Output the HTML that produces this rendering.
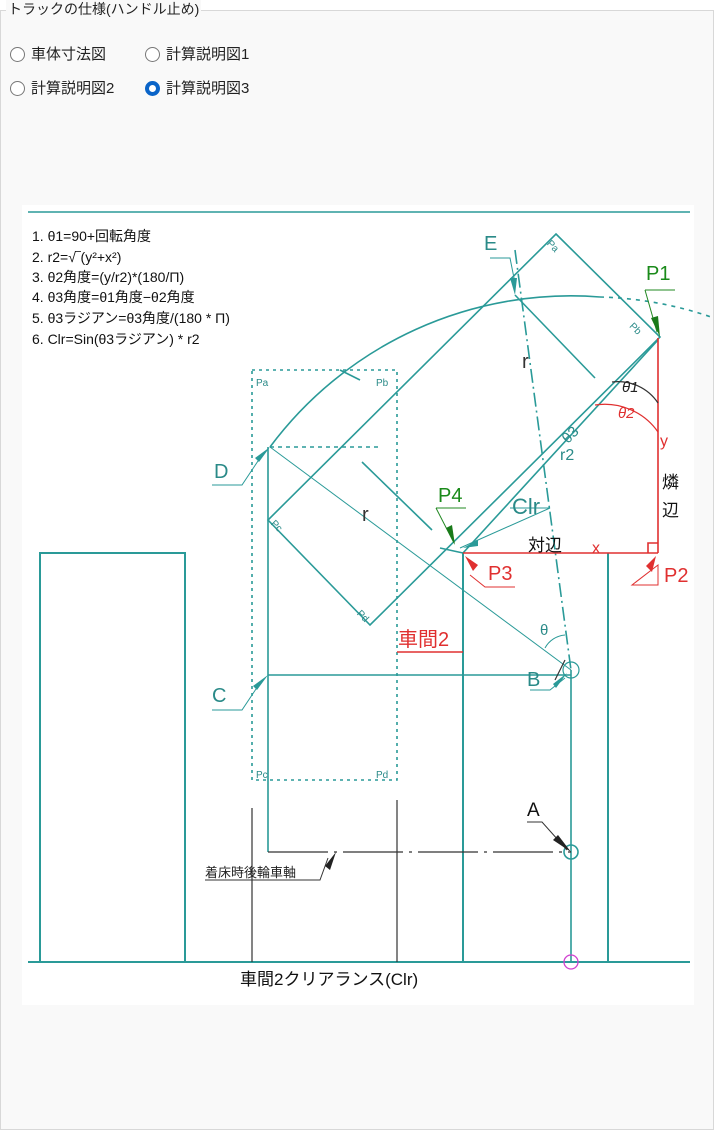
<!DOCTYPE html>
<html><head><meta charset="utf-8"><style>
body{margin:0;width:714px;height:1130px;background:#fff;font-family:"Liberation Sans","Noto Sans CJK JP",sans-serif;overflow:hidden}
.panel{position:absolute;left:0;top:10px;width:712px;height:1118px;border:1px solid #d8d8d8;background:#f9f9f9}
.legend{position:absolute;left:6px;top:0;font-size:14px;color:#222;background:#f9f9f9;padding:0 2px;line-height:18px}
.r{position:absolute;font-size:15px;color:#222;line-height:20px}
.c{display:inline-block;width:15px;height:15px;border:1px solid #777;border-radius:50%;vertical-align:-3px;margin-right:6px;box-sizing:border-box;background:#fff}
.c.on{border:4px solid #0a64c8}
</style></head><body>
<div class="panel"></div>
<div class="legend">トラックの仕様(ハンドル止め)</div>
<div class="r" style="left:10px;top:45px"><span class="c"></span>車体寸法図</div>
<div class="r" style="left:145px;top:45px"><span class="c"></span>計算説明図1</div>
<div class="r" style="left:10px;top:79px"><span class="c"></span>計算説明図2</div>
<div class="r" style="left:145px;top:79px"><span class="c on"></span>計算説明図3</div>
<svg style="position:absolute;left:0;top:0" width="714" height="1130" font-family="Liberation Sans,Noto Sans CJK JP,sans-serif">
<rect x="22" y="205" width="672" height="800" fill="#fff"/>
<g stroke="#2a9a98" fill="none" stroke-width="1.6">
<line x1="28" y1="212" x2="690" y2="212"/>
<line x1="28" y1="962" x2="690" y2="962" stroke-width="2"/>
<rect x="40" y="553" width="145" height="409" stroke-width="2"/>
<line x1="463" y1="553" x2="463" y2="962" stroke-width="2"/>
<line x1="608" y1="553" x2="608" y2="962" stroke-width="2"/>
<polygon points="556,234 660,337 370,625 268,520"/>
<line x1="515" y1="295" x2="595" y2="378"/>
<line x1="362" y1="462" x2="432" y2="530"/>
<line x1="658" y1="340" x2="463" y2="553"/>
<path d="M270,447 A375,375 0 0 1 600,297" />
<path d="M600,297 A375,375 0 0 1 714,318" stroke-dasharray="4,5"/>
<line x1="270" y1="447" x2="571" y2="670" stroke-width="1"/>
<line x1="515" y1="250" x2="571" y2="670" stroke-dasharray="14,4,2,4"/>
<line x1="571" y1="670" x2="571" y2="962"/>
<circle cx="571" cy="670" r="8" stroke-width="1.2"/>
<circle cx="571" cy="852" r="7"/>
<rect x="252" y="370" width="145" height="410" stroke-dasharray="3,4"/>
<line x1="270" y1="447" x2="380" y2="447" stroke-dasharray="4,4"/>
<line x1="268" y1="447" x2="268" y2="852"/>
<line x1="268" y1="675" x2="571" y2="675"/>
<path d="M340,370 l20,10"/>
<line x1="463" y1="553" x2="440" y2="548"/>
<path d="M210,360 l0,0"/>
<path d="M490,258 l20,0 l5,25" stroke-width="1"/>
<path d="M212,485 l30,0 l20,-30" stroke-width="1"/>
<path d="M212,710 l30,0 l20,-30" stroke-width="1"/>
<path d="M510,508 l40,0 l-90,40" stroke-width="1"/>
<path d="M530,690 l20,0 l15,-12" stroke-width="1"/>
</g>
<g stroke="#333" stroke-width="1.2" fill="none">
<line x1="252" y1="808" x2="252" y2="962"/>
<line x1="397" y1="800" x2="397" y2="962"/>
<line x1="268" y1="852" x2="571" y2="852" stroke-dasharray="60,6,3,6"/>
<path d="M205,880 l115,0 l8,-22" stroke-width="1"/>
<path d="M527,822 l15,0 l25,28" stroke-width="1"/>
<path d="M565,660 l-10,20"/>
</g>
<g stroke="#e03030" fill="none" stroke-width="1.6">
<line x1="463" y1="553" x2="658" y2="553"/>
<line x1="658" y1="338" x2="658" y2="553"/>
<path d="M648,553 v-10 h10"/>
<path d="M595,405 A65,65 0 0 1 658,432" stroke-width="1.2"/>
<line x1="397" y1="652" x2="463" y2="652"/>
<path d="M470,575 l15,12 l30,0" stroke-width="1"/>
<path d="M632,585 l26,-20 l0,20 z" stroke-width="1"/>
</g>
<path d="M612,382 A48,48 0 0 1 658,403" stroke="#333" fill="none" stroke-width="1.2"/>
<path d="M545,648 A25,25 0 0 1 565,635" stroke="#2a9a98" fill="none" stroke-width="1"/>
<g stroke="#228822" fill="none" stroke-width="1"><path d="M645,290 l30,0 M645,290 l12,42"/><path d="M436,508 l30,0 M436,508 l18,35"/></g>
<g fill="#1a7a1a"><polygon points="660,337 651,318 658,316"/><polygon points="455,545 446,528 452,525"/></g>
<g fill="#2a9a98"><polygon points="515,295 510,278 517,278"/><polygon points="270,447 255,458 259,462"/><polygon points="268,675 253,686 257,690"/><polygon points="463,548 478,540 478,546"/><polygon points="567,673 553,684 556,688"/></g>
<g fill="#222"><polygon points="571,852 558,835 553,840"/><polygon points="336,852 325,866 330,870"/></g>
<g fill="#e03030"><polygon points="465,556 478,565 473,571"/><polygon points="656,556 646,566 652,572"/></g>
<g font-size="14" fill="#111">
<text x="32" y="241">1. θ1=90+回転角度</text>
<text x="32" y="262">2.  r2=√‾(y²+x²)</text>
<text x="32" y="282">3. θ2角度=(y/r2)*(180/Π)</text>
<text x="32" y="302">4. θ3角度=θ1角度−θ2角度</text>
<text x="32" y="323">5. θ3ラジアン=θ3角度/(180 * Π)</text>
<text x="32" y="344">6. Clr=Sin(θ3ラジアン) * r2</text>
</g>
<g fill="#2a8a88" font-size="20">
<text x="484" y="250">E</text><text x="214" y="478">D</text><text x="212" y="702">C</text><text x="527" y="686">B</text>
<text x="512" y="514" font-size="22">Clr</text>
<text x="522" y="368" fill="#333">r</text><text x="362" y="521" fill="#333">r</text>
<text x="560" y="460" font-size="16">r2</text><text x="562" y="440" font-size="15" transform="rotate(-45 570 435)">θ3</text>
<text x="540" y="635" font-size="15">θ</text>
</g>
<text x="527" y="816" font-size="19" fill="#111">A</text>
<g fill="#2a8a88" font-size="10"><text x="256" y="386">Pa</text><text x="376" y="386">Pb</text><text x="256" y="778">Pc</text><text x="376" y="778">Pd</text>
<text x="548" y="248" transform="rotate(45 552 244)">Pa</text><text x="630" y="332" transform="rotate(45 636 328)">Pb</text><text x="272" y="528" transform="rotate(45 276 524)">Pc</text><text x="358" y="618" transform="rotate(45 362 614)">Pd</text></g>
<g fill="#1a8a1a" font-size="20"><text x="646" y="280">P1</text><text x="438" y="502">P4</text></g>
<g fill="#e03030" font-size="20"><text x="488" y="580">P3</text><text x="664" y="582">P2</text><text x="398" y="646">車間2</text>
<text x="592" y="553" font-size="16">x</text><text x="660" y="446" font-size="16">y</text><text x="618" y="418" font-size="15" font-style="italic">θ2</text></g>
<text x="622" y="392" font-size="15" font-style="italic" fill="#222">θ1</text>
<g fill="#111" font-size="17"><text x="528" y="551">対辺</text><text x="662" y="488">燐</text><text x="662" y="516">辺</text>
<text x="240" y="985">車間2クリアランス(Clr)</text></g>
<text x="205" y="877" font-size="13" fill="#222">着床時後輪車軸</text>
<circle cx="571" cy="962" r="7" fill="none" stroke="#d040d0" stroke-width="1.3"/>
</svg>
</body></html>
